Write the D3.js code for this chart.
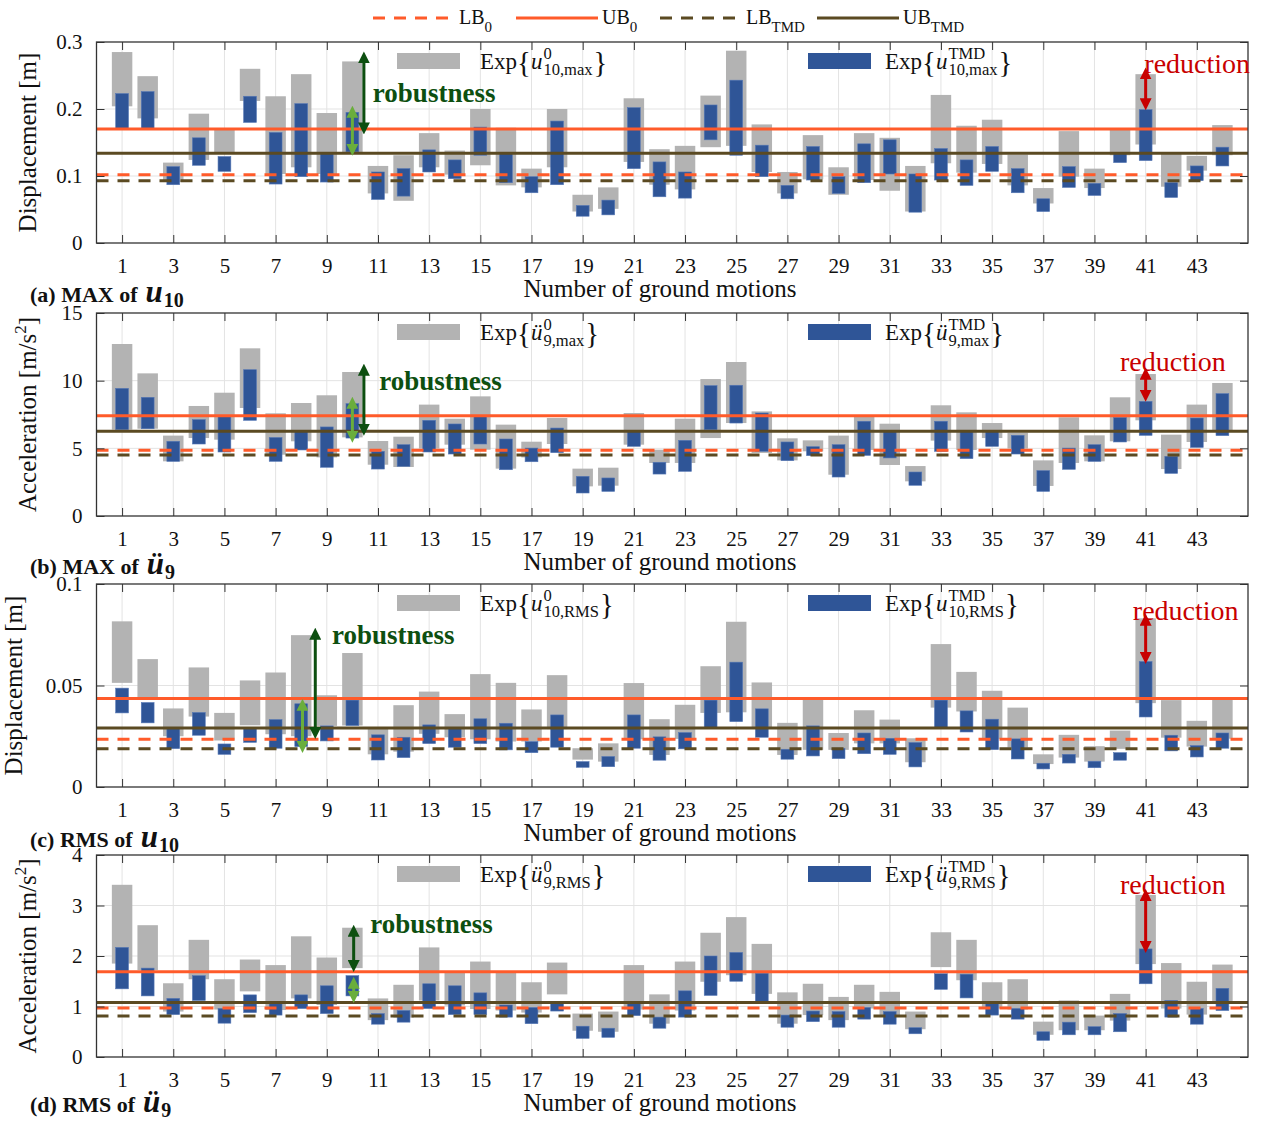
<!DOCTYPE html>
<html><head><meta charset="utf-8">
<script src="https://cdn.jsdelivr.net/npm/d3@7"></script>
<style>
body{margin:0;background:#fff}
svg{display:block}
text{font-family:"Liberation Serif","Times New Roman",serif;fill:#111}
</style>
</head><body>
<svg id="chart" width="1266" height="1126"></svg>
<script>
const motions = d3.range(1, 45);
const xTicks = d3.range(1, 44, 2);
const boundNames = ['LB0', 'UB0', 'LBTMD', 'UBTMD'];

// (a) MAX of u10 [m], each entry [low, high]
const maxU10_exp0 = [[0.204,0.285],[0.186,0.249],[0.091,0.120],[0.124,0.193],[0.133,0.171],[0.212,0.260],[0.103,0.219],[0.113,0.252],[0.103,0.194],[0.135,0.271],
  [0.074,0.115],[0.063,0.131],[0.113,0.164],[0.102,0.138],[0.116,0.200],[0.086,0.172],[0.083,0.111],[0.113,0.200],[0.047,0.072],[0.051,0.083],
  [0.121,0.216],[0.087,0.140],[0.080,0.145],[0.143,0.220],[0.145,0.287],[0.106,0.177],[0.074,0.106],[0.095,0.161],[0.072,0.113],[0.094,0.164],
  [0.078,0.157],[0.047,0.115],[0.119,0.221],[0.105,0.175],[0.118,0.184],[0.086,0.132],[0.059,0.082],[0.099,0.167],[0.082,0.111],[0.131,0.169],
  [0.147,0.252],[0.084,0.133],[0.108,0.130],[0.131,0.176]];
const maxU10_tmd = [[0.170,0.223],[0.170,0.226],[0.087,0.114],[0.116,0.157],[0.107,0.129],[0.180,0.219],[0.088,0.165],[0.099,0.208],[0.091,0.134],[0.136,0.195],
  [0.065,0.106],[0.070,0.111],[0.106,0.139],[0.096,0.124],[0.131,0.173],[0.090,0.134],[0.075,0.099],[0.087,0.182],[0.040,0.056],[0.042,0.064],
  [0.111,0.202],[0.069,0.121],[0.067,0.106],[0.154,0.206],[0.131,0.243],[0.099,0.146],[0.066,0.086],[0.094,0.144],[0.074,0.099],[0.090,0.148],
  [0.103,0.154],[0.046,0.103],[0.094,0.141],[0.086,0.124],[0.107,0.144],[0.075,0.111],[0.047,0.066],[0.083,0.114],[0.071,0.089],[0.120,0.134],
  [0.123,0.199],[0.068,0.090],[0.093,0.115],[0.115,0.143]];
const maxU10_bounds = [0.102, 0.170, 0.093, 0.134];

// (b) MAX of acc9 [m/s^2]
const maxA9_exp0 = [[6.38,12.71],[6.45,10.54],[4.04,5.94],[5.76,8.13],[5.64,9.11],[7.98,12.39],[4.53,7.59],[5.52,8.35],[4.33,8.92],[5.81,10.64],
  [3.79,5.54],[3.62,5.86],[4.98,8.23],[5.27,7.19],[4.90,8.84],[3.50,6.75],[4.33,5.49],[5.32,7.24],[2.19,3.50],[2.24,3.57],
  [5.27,7.61],[3.92,4.90],[3.92,7.19],[5.76,10.12],[6.87,11.38],[4.66,7.73],[4.11,5.74],[4.78,5.59],[3.05,5.94],[4.88,7.32],
  [3.77,6.82],[2.56,3.69],[5.57,8.18],[4.88,7.66],[5.76,6.87],[4.98,6.16],[2.22,4.11],[3.92,7.29],[4.04,5.96],[5.52,8.77],
  [7.07,10.49],[3.47,6.01],[5.47,8.23],[6.21,9.83]];
const maxA9_tmd = [[6.38,9.43],[6.45,8.77],[4.04,5.52],[5.32,7.12],[4.73,7.36],[7.07,10.81],[4.04,5.80],[4.88,6.26],[3.60,6.58],[5.76,8.30],
  [3.47,4.78],[3.67,5.27],[4.73,7.07],[4.58,6.80],[5.32,7.36],[3.42,5.69],[4.01,5.02],[4.68,6.50],[1.70,2.93],[1.82,2.81],
  [5.15,6.26],[3.10,3.97],[3.30,5.59],[6.38,9.63],[6.87,9.66],[4.78,7.61],[4.09,5.47],[4.46,5.12],[2.88,5.27],[4.48,7.00],
  [4.29,6.26],[2.27,3.25],[4.78,7.00],[4.24,6.26],[5.15,6.26],[4.58,5.96],[1.82,3.35],[3.45,5.02],[4.04,5.27],[5.47,7.29],
  [5.96,8.47],[3.15,4.41],[5.07,7.24],[5.94,9.04]];
const maxA9_bounds = [4.85, 7.41, 4.51, 6.26];

// (c) RMS of u10 [m]
const rmsU10_exp0 = [[0.0513,0.0816],[0.0438,0.0630],[0.0250,0.0387],[0.0347,0.0589],[0.0229,0.0365],[0.0304,0.0525],[0.0260,0.0564],[0.0250,0.0748],[0.0301,0.0452],[0.0303,0.0660],
  [0.0161,0.0289],[0.0174,0.0403],[0.0262,0.0470],[0.0245,0.0359],[0.0235,0.0556],[0.0224,0.0513],[0.0224,0.0382],[0.0285,0.0551],[0.0135,0.0191],[0.0125,0.0215],
  [0.0235,0.0512],[0.0158,0.0334],[0.0237,0.0405],[0.0365,0.0595],[0.0368,0.0814],[0.0289,0.0515],[0.0158,0.0316],[0.0183,0.0433],[0.0183,0.0266],[0.0215,0.0378],
  [0.0215,0.0332],[0.0122,0.0240],[0.0391,0.0704],[0.0372,0.0567],[0.0237,0.0474],[0.0194,0.0391],[0.0113,0.0161],[0.0145,0.0257],[0.0125,0.0201],[0.0188,0.0278],
  [0.0413,0.0831],[0.0243,0.0428],[0.0199,0.0326],[0.0238,0.0431]];
const rmsU10_tmd = [[0.0365,0.0487],[0.0316,0.0416],[0.0189,0.0289],[0.0255,0.0367],[0.0161,0.0212],[0.0220,0.0289],[0.0191,0.0332],[0.0199,0.0410],[0.0227,0.0301],[0.0303,0.0428],
  [0.0133,0.0257],[0.0145,0.0245],[0.0214,0.0306],[0.0196,0.0289],[0.0214,0.0336],[0.0183,0.0314],[0.0169,0.0224],[0.0196,0.0355],[0.0097,0.0125],[0.0100,0.0150],
  [0.0191,0.0355],[0.0132,0.0247],[0.0188,0.0268],[0.0293,0.0428],[0.0322,0.0615],[0.0245,0.0385],[0.0137,0.0186],[0.0153,0.0301],[0.0140,0.0191],[0.0164,0.0266],
  [0.0161,0.0240],[0.0099,0.0219],[0.0293,0.0428],[0.0271,0.0375],[0.0184,0.0334],[0.0138,0.0237],[0.0089,0.0117],[0.0118,0.0161],[0.0095,0.0127],[0.0132,0.0169],
  [0.0345,0.0618],[0.0178,0.0255],[0.0148,0.0204],[0.0191,0.0266]];
const rmsU10_bounds = [0.0235, 0.0436, 0.0188, 0.0291];

// (d) RMS of acc9 [m/s^2]
const rmsA9_exp0 = [[1.85,3.41],[1.72,2.61],[0.90,1.46],[1.54,2.32],[0.94,1.54],[1.30,1.93],[0.93,1.82],[1.16,2.39],[1.03,1.97],[1.76,2.56],
  [0.73,1.16],[0.78,1.43],[1.12,2.17],[1.02,1.69],[0.95,1.89],[0.92,1.67],[0.88,1.48],[1.24,1.87],[0.52,0.86],[0.50,0.90],
  [0.94,1.82],[0.66,1.24],[0.92,1.89],[1.49,2.46],[1.62,2.77],[1.25,2.24],[0.66,1.28],[0.83,1.45],[0.73,1.19],[0.96,1.43],
  [0.83,1.29],[0.55,0.90],[1.78,2.47],[1.52,2.32],[0.96,1.48],[0.94,1.54],[0.44,0.70],[0.53,1.12],[0.53,0.82],[0.72,1.25],
  [1.84,3.21],[0.96,1.86],[0.84,1.49],[1.11,1.83]];
const rmsA9_tmd = [[1.35,2.17],[1.21,1.76],[0.84,1.16],[1.12,1.61],[0.67,0.96],[0.88,1.23],[0.83,1.08],[0.96,1.23],[0.86,1.41],[1.21,1.61],
  [0.65,0.86],[0.69,0.92],[0.96,1.45],[0.84,1.41],[0.84,1.27],[0.79,1.03],[0.66,0.98],[0.91,1.08],[0.37,0.61],[0.39,0.57],
  [0.82,1.06],[0.57,0.79],[0.79,1.31],[1.22,2.00],[1.50,2.07],[1.10,1.66],[0.59,0.83],[0.70,0.91],[0.59,0.90],[0.75,0.98],
  [0.65,0.90],[0.46,0.58],[1.34,1.65],[1.17,1.64],[0.83,1.10],[0.75,0.96],[0.33,0.50],[0.44,0.69],[0.44,0.60],[0.50,0.86],
  [1.45,2.14],[0.79,1.12],[0.65,0.96],[0.92,1.36]];
const rmsA9_bounds = [0.97, 1.69, 0.81, 1.08];

const C = { gray: '#b3b3b3', blue: '#2f5597', orange: '#ff5b2a', olive: '#5b4a22',
  dkGreen: '#0d4f10', ltGreen: '#6aae3c', red: '#c80000', grid: '#e3e3e3', axis: '#333' };

const panels = [
  { tag: '(a) MAX of', sym: 'u', sub: '10', ylabel: ['Displacement [m]'], ylabX: 36, tagDy: 59,
    top: 42, bottom: 243, yMax: 0.3, yTicks: [0, 0.1, 0.2, 0.3], fmt: d3.format('~g'),
    exp0: maxU10_exp0, tmd: maxU10_tmd, bounds: maxU10_bounds, legSub: '10,max',
    rob: { x: 10.45, y0: 0.277, y1: 0.171, lx: 10, ly0: 0.196, ly1: 0.139, tx: 10.8, ty: 0.211 },
    red: { x: 41, y0: 0.253, y1: 0.207, tx: 40.95, ty: 0.254 } },
  { tag: '(b) MAX of', sym: 'ü', sub: '9', ylabel: ['Acceleration [m/s', '2', ']'], ylabX: 36, tagDy: 58,
    top: 313, bottom: 516, yMax: 15, yTicks: [0, 5, 10, 15], fmt: d3.format('d'),
    exp0: maxA9_exp0, tmd: maxA9_tmd, bounds: maxA9_bounds, legSub: '9,max',
    rob: { x: 10.45, y0: 10.81, y1: 6.38, lx: 10, ly0: 8.37, ly1: 5.86, tx: 11.05, ty: 9.3 },
    red: { x: 41, y0: 10.52, y1: 8.89, tx: 40.0, ty: 10.75 } },
  { tag: '(c)  RMS of', sym: 'u', sub: '10', ylabel: ['Displacement [m]'], ylabX: 22, tagDy: 60,
    top: 584, bottom: 787, yMax: 0.1, yTicks: [0, 0.05, 0.1], fmt: d3.format('~g'),
    exp0: rmsU10_exp0, tmd: rmsU10_tmd, bounds: rmsU10_bounds, legSub: '10,RMS',
    rob: { x: 8.55, y0: 0.0755, y1: 0.0266, lx: 8.05, ly0: 0.0405, ly1: 0.0197, tx: 9.2, ty: 0.0705 },
    red: { x: 41, y0: 0.0824, y1: 0.0636, tx: 40.5, ty: 0.0825 } },
  { tag: '(d) RMS of', sym: 'ü', sub: '9', ylabel: ['Acceleration [m/s', '2', ']'], ylabX: 36, tagDy: 55,
    top: 855, bottom: 1057, yMax: 4, yTicks: [0, 1, 2, 3, 4], fmt: d3.format('d'),
    exp0: rmsA9_exp0, tmd: rmsA9_tmd, bounds: rmsA9_bounds, legSub: '9,RMS',
    rob: { x: 10.05, y0: 2.50, y1: 1.80, lx: 10.05, ly0: 1.47, ly1: 1.19, tx: 10.7, ty: 2.45 },
    red: { x: 41, y0: 3.21, y1: 2.18, tx: 40.0, ty: 3.22 } }
];

const svg = d3.select('#chart');
const x = d3.scaleLinear().domain([0, 45]).range([96.5, 1248]);

const defs = svg.append('defs');
[['dk', C.dkGreen], ['lt', C.ltGreen], ['rd', C.red]].forEach(([id, col]) => {
  ['s', 'e'].forEach(end => {
    defs.append('marker').attr('id', id + end)
      .attr('viewBox', '0 0 10 10').attr('refX', 5).attr('refY', 5)
      .attr('markerWidth', 4).attr('markerHeight', 4).attr('orient', 'auto-start-reverse')
      .append('path').attr('d', 'M0,0L10,5L0,10Z').attr('fill', col);
  });
});

function tw(sel) { return sel.node().getComputedTextLength(); }

// "Exp{ sym^sup_sub }"
function mathLabel(g, x0, y0, sym, sup, sub, fs) {
  const t1 = g.append('text').attr('x', x0).attr('y', y0).attr('font-size', fs).text('Exp');
  let cx = x0 + tw(t1);
  const b1 = g.append('text').attr('x', cx).attr('y', y0 + 3).attr('font-size', fs * 1.25).text('{');
  cx += tw(b1);
  const s = g.append('text').attr('x', cx).attr('y', y0).attr('font-size', fs).attr('font-style', 'italic').text(sym);
  cx += tw(s) + 1;
  const up = g.append('text').attr('x', cx).attr('y', y0 - fs * 0.42).attr('font-size', fs * 0.72).text(sup);
  const dn = g.append('text').attr('x', cx).attr('y', y0 + fs * 0.28).attr('font-size', fs * 0.72).text(sub);
  cx += Math.max(tw(up), tw(dn)) + 1;
  g.append('text').attr('x', cx).attr('y', y0 + 3).attr('font-size', fs * 1.25).text('}');
}

panels.forEach(p => {
  const y = d3.scaleLinear().domain([0, p.yMax]).range([p.bottom, p.top]);
  const g = svg.append('g');

  // grid
  g.append('g').selectAll('line').data(xTicks).join('line')
    .attr('x1', d => x(d)).attr('x2', d => x(d)).attr('y1', p.top).attr('y2', p.bottom)
    .attr('stroke', C.grid).attr('stroke-width', 1);
  g.append('g').selectAll('line').data(p.yTicks.slice(1, -1)).join('line')
    .attr('y1', d => y(d)).attr('y2', d => y(d)).attr('x1', x(0)).attr('x2', x(45))
    .attr('stroke', C.grid).attr('stroke-width', 1);

  // bars
  const gw = x(0.8) - x(0), bw = x(0.5) - x(0);
  g.append('g').selectAll('rect').data(p.exp0).join('rect')
    .attr('x', (d, i) => x(motions[i]) - gw / 2).attr('width', gw)
    .attr('y', d => y(d[1])).attr('height', d => y(d[0]) - y(d[1]))
    .attr('fill', C.gray);
  g.append('g').selectAll('rect').data(p.tmd).join('rect')
    .attr('x', (d, i) => x(motions[i]) - bw / 2).attr('width', bw)
    .attr('y', d => y(d[1])).attr('height', d => y(d[0]) - y(d[1]))
    .attr('fill', C.blue).attr('stroke', '#5577b5').attr('stroke-width', 0.6);

  // bound lines
  const styles = { LB0: [C.orange, '12,9'], UB0: [C.orange, null], LBTMD: [C.olive, '12,9'], UBTMD: [C.olive, null] };
  g.append('g').selectAll('line').data(p.bounds).join('line')
    .attr('x1', x(0)).attr('x2', x(45)).attr('y1', d => y(d)).attr('y2', d => y(d))
    .attr('stroke', (d, i) => styles[boundNames[i]][0])
    .attr('stroke-dasharray', (d, i) => styles[boundNames[i]][1])
    .attr('stroke-width', 3);

  // axes (inward ticks, box)
  g.append('g').attr('transform', `translate(0,${p.bottom})`)
    .call(d3.axisBottom(x).tickValues(xTicks).tickSize(-8).tickPadding(15))
    .call(a => a.select('.domain').remove())
    .call(a => a.selectAll('text').attr('font-size', 21).attr('font-family', '"Liberation Serif",serif').attr('fill', '#111'));
  g.append('g').attr('transform', `translate(0,${p.top})`)
    .call(d3.axisTop(x).tickValues(xTicks).tickSize(-8).tickFormat(''))
    .call(a => a.select('.domain').remove());
  g.append('g').attr('transform', `translate(${x(0)},0)`)
    .call(d3.axisLeft(y).tickValues(p.yTicks).tickSize(-8).tickPadding(14).tickFormat(p.fmt))
    .call(a => a.select('.domain').remove())
    .call(a => a.selectAll('text').attr('font-size', 21).attr('font-family', '"Liberation Serif",serif').attr('fill', '#111'));
  g.append('g').attr('transform', `translate(${x(45)},0)`)
    .call(d3.axisRight(y).tickValues(p.yTicks).tickSize(-8).tickFormat(''))
    .call(a => a.select('.domain').remove());
  g.selectAll('.tick line').attr('stroke', C.axis);
  g.append('rect').attr('x', x(0)).attr('y', p.top).attr('width', x(45) - x(0)).attr('height', p.bottom - p.top)
    .attr('fill', 'none').attr('stroke', C.axis).attr('stroke-width', 1.3);

  // y label
  const yl = g.append('text').attr('transform', `translate(${p.ylabX},${(p.top + p.bottom) / 2}) rotate(-90)`)
    .attr('text-anchor', 'middle').attr('font-size', 25);
  yl.append('tspan').text(p.ylabel[0]);
  if (p.ylabel.length > 1) {
    yl.append('tspan').attr('font-size', 17).attr('dy', -10).text(p.ylabel[1]);
    yl.append('tspan').attr('dy', 10).text(p.ylabel[2]);
  }

  // x label
  g.append('text').attr('x', 660).attr('y', p.bottom + 54).attr('text-anchor', 'middle')
    .attr('font-size', 25).text('Number of ground motions');

  // panel tag
  const tg = g.append('text').attr('x', 30).attr('y', p.bottom + p.tagDy).attr('font-size', 22).attr('font-weight', 'bold').text(p.tag);
  const tx = 30 + tw(tg) + 8;
  const ts = g.append('text').attr('x', tx).attr('y', p.bottom + p.tagDy).attr('font-size', 31)
    .attr('font-weight', 'bold').attr('font-style', 'italic').text(p.sym);
  g.append('text').attr('x', tx + tw(ts) + 1).attr('y', p.bottom + p.tagDy + 5).attr('font-size', 20)
    .attr('font-weight', 'bold').text(p.sub);

  // in-axes legend
  const ly = p.top + 19;
  g.append('rect').attr('x', 397).attr('y', ly - 8).attr('width', 63).attr('height', 16).attr('fill', C.gray);
  mathLabel(g, 480, ly + 8, p.sym, '0', p.legSub, 23);
  g.append('rect').attr('x', 808).attr('y', ly - 8).attr('width', 63).attr('height', 16).attr('fill', C.blue);
  mathLabel(g, 885, ly + 8, p.sym, 'TMD', p.legSub, 23);

  // annotations
  const r = p.rob;
  g.append('line').attr('x1', x(r.x)).attr('x2', x(r.x)).attr('y1', y(r.y0)).attr('y2', y(r.y1))
    .attr('stroke', C.dkGreen).attr('stroke-width', 3)
    .attr('marker-start', 'url(#dks)').attr('marker-end', 'url(#dke)');
  g.append('line').attr('x1', x(r.lx)).attr('x2', x(r.lx)).attr('y1', y(r.ly0)).attr('y2', y(r.ly1))
    .attr('stroke', C.ltGreen).attr('stroke-width', 3)
    .attr('marker-start', 'url(#lts)').attr('marker-end', 'url(#lte)');
  g.append('text').attr('x', x(r.tx)).attr('y', y(r.ty)).attr('font-size', 27).attr('font-weight', 'bold')
    .style('fill', C.dkGreen).text('robustness');
  const rd = p.red;
  g.append('line').attr('x1', x(rd.x)).attr('x2', x(rd.x)).attr('y1', y(rd.y0)).attr('y2', y(rd.y1))
    .attr('stroke', C.red).attr('stroke-width', 3)
    .attr('marker-start', 'url(#rds)').attr('marker-end', 'url(#rde)');
  g.append('text').attr('x', x(rd.tx)).attr('y', y(rd.ty)).attr('font-size', 28)
    .style('fill', C.red).text('reduction');
});

// top legend
const legend = [
  { name: 'LB', sub: '0', col: C.orange, dash: '12,9', x0: 373 },
  { name: 'UB', sub: '0', col: C.orange, dash: null, x0: 516 },
  { name: 'LB', sub: 'TMD', col: C.olive, dash: '12,9', x0: 660 },
  { name: 'UB', sub: 'TMD', col: C.olive, dash: null, x0: 817 }
];
const lg = svg.append('g');
legend.forEach(l => {
  lg.append('line').attr('x1', l.x0).attr('x2', l.x0 + 82).attr('y1', 18).attr('y2', 18)
    .attr('stroke', l.col).attr('stroke-width', 3).attr('stroke-dasharray', l.dash);
  const t = lg.append('text').attr('x', l.x0 + 86).attr('y', 24).attr('font-size', 20).text(l.name);
  lg.append('text').attr('x', l.x0 + 86 + tw(t)).attr('y', 32).attr('font-size', 15).text(l.sub);
});
</script>
</body></html>
